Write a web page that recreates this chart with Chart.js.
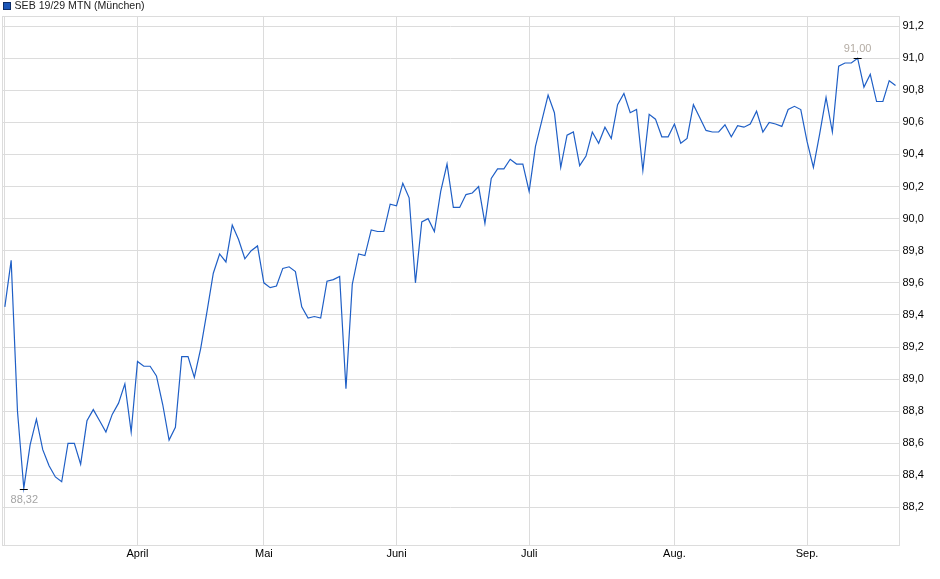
<!DOCTYPE html>
<html lang="de">
<head>
<meta charset="utf-8">
<title>SEB 19/29 MTN (München)</title>
<script src="https://cdn.jsdelivr.net/npm/chart.js@4.4.1/dist/chart.umd.min.js"></script>
<style>
  html, body { margin: 0; padding: 0; background: #fff; }
  canvas { display: block; }
</style>
</head>
<body>
<canvas id="kurs" width="940" height="579"></canvas>
<script>
// Kursverlauf diario, un valor por día de negociación
const nombreSerie = 'SEB 19/29 MTN (München)';

const valores = [
  89.45, 89.74, 88.80, 88.32, 88.59, 88.75, 88.56, 88.46, 88.39, 88.36,
  88.60, 88.60, 88.47, 88.74, 88.81, 88.74, 88.67, 88.78, 88.85, 88.97,
  88.67, 89.11, 89.08, 89.08, 89.02, 88.84, 88.62, 88.70, 89.14, 89.14,
  89.01, 89.19, 89.42, 89.66, 89.78, 89.73, 89.96, 89.87, 89.75, 89.80,
  89.83, 89.60, 89.57, 89.58, 89.69, 89.70, 89.67, 89.45, 89.38, 89.39,
  89.38, 89.61, 89.62, 89.64, 88.94, 89.59, 89.78, 89.77, 89.93, 89.92,
  89.92, 90.09, 90.08, 90.22, 90.13, 89.60, 89.98, 90.00, 89.92, 90.17,
  90.34, 90.07, 90.07, 90.15, 90.16, 90.20, 89.97, 90.25, 90.31, 90.31,
  90.37, 90.34, 90.34, 90.17, 90.45, 90.61, 90.77, 90.66, 90.32, 90.52,
  90.54, 90.33, 90.39, 90.54, 90.47, 90.57, 90.50, 90.71, 90.78, 90.66,
  90.68, 90.30, 90.65, 90.62, 90.51, 90.51, 90.59, 90.47, 90.50, 90.71,
  90.63, 90.55, 90.54, 90.54, 90.585, 90.51, 90.58, 90.57, 90.59, 90.67,
  90.54, 90.60, 90.59, 90.575, 90.68, 90.70, 90.68, 90.48, 90.32, 90.53,
  90.755, 90.54, 90.95, 90.97, 90.97, 91.00, 90.82, 90.90, 90.73, 90.73,
  90.86, 90.83
];

// primer día de cada mes (índice dentro de valores)
const etiquetasMes = ['', 'April', 'Mai', 'Juni', 'Juli', 'Aug.', 'Sep.'];
const indicesMes = [0, 21, 41, 62, 83, 106, 127];

const ticksY = [88.2, 88.4, 88.6, 88.8, 89.0, 89.2, 89.4, 89.6, 89.8, 90.0, 90.2, 90.4, 90.6, 90.8, 91.0, 91.2];

(function(){
  const fuente = 'Liberation Sans, Arial, sans-serif';
  const gris = '#dcdcdc';
  const azul = '#1f5fc6';

  const conComa = (v, dec) => Number(v).toFixed(dec).replace('.', ',');

  const puntos = valores.map((v, i) => ({ x: i, y: v }));

  // marco del área, leyenda arriba y marcas de mínimo / máximo
  const extras = {
    id: 'extras',
    beforeDatasetsDraw(chart) {
      const { ctx, chartArea: a } = chart;
      ctx.save();
      ctx.strokeStyle = gris;
      ctx.lineWidth = 1;
      ctx.strokeRect(Math.round(a.left) + 0.5, Math.round(a.top) + 0.5, Math.round(a.right - a.left), Math.round(a.bottom - a.top));
      ctx.restore();
    },
    afterDraw(chart) {
      const { ctx } = chart;
      const sx = chart.scales.x, sy = chart.scales.y;
      ctx.save();

      // leyenda
      ctx.fillStyle = '#1b56b8';
      ctx.fillRect(3.5, 2.5, 7, 7);
      ctx.strokeStyle = '#0d2c66';
      ctx.lineWidth = 1;
      ctx.strokeRect(3.5, 2.5, 7, 7);
      ctx.fillStyle = '#222';
      ctx.font = '10.6px ' + fuente;
      ctx.textBaseline = 'middle';
      ctx.textAlign = 'left';
      ctx.fillText(nombreSerie, 14.5, 6.5);

      // mínimo y máximo
      const vMin = Math.min(...valores), vMax = Math.max(...valores);
      const iMin = valores.indexOf(vMin), iMax = valores.indexOf(vMax);
      const marcar = (i, v, abajo, color) => {
        const px = sx.getPixelForValue(i);
        const py = Math.round(sy.getPixelForValue(v)) + (abajo ? 1.5 : 0.5);
        ctx.strokeStyle = '#000';
        ctx.lineWidth = 1;
        ctx.beginPath();
        ctx.moveTo(px - 4, py);
        ctx.lineTo(px + 4, py);
        ctx.stroke();
        ctx.fillStyle = color;
        ctx.textAlign = 'center';
        ctx.textBaseline = 'middle';
        ctx.font = '11px ' + fuente;
        ctx.fillText(conComa(v, 2), px + (abajo ? 0.5 : 0), abajo ? py + 10 : py - 10);
      };
      marcar(iMin, vMin, true, '#a4a4a4');
      marcar(iMax, vMax, false, '#b4aca4');
      ctx.restore();
    }
  };

  new Chart(document.getElementById('kurs'), {
    type: 'line',
    data: {
      datasets: [{
        label: nombreSerie,
        data: puntos,
        borderColor: azul,
        borderWidth: 1.2,
        pointRadius: 0,
        tension: 0,
        fill: false
      }]
    },
    options: {
      responsive: false,
      animation: false,
      devicePixelRatio: 1,
      layout: { padding: { left: 2, top: 16, right: 0, bottom: 0 } },
      plugins: {
        legend: { display: false },
        tooltip: { enabled: false }
      },
      scales: {
        x: {
          type: 'linear',
          position: 'bottom',
          min: -0.45,
          max: 141.47,
          border: { display: false },
          grid: { color: gris, drawTicks: false },
          afterBuildTicks: (s) => { s.ticks = indicesMes.map(v => ({ value: v })); },
          afterFit: (s) => { s.height = 34; },
          ticks: {
            autoSkip: false,
            maxRotation: 0,
            padding: 2,
            color: '#000',
            font: { family: fuente, size: 11 },
            callback: (v) => {
              const k = indicesMes.indexOf(v);
              return k >= 0 ? etiquetasMes[k] : '';
            }
          }
        },
        y: {
          position: 'right',
          min: 87.966,
          max: 91.263,
          border: { display: false },
          grid: { color: gris, drawTicks: false },
          afterBuildTicks: (s) => { s.ticks = ticksY.map(v => ({ value: v })); },
          afterFit: (s) => { s.width = 41.5; },
          ticks: {
            padding: 4,
            color: '#000',
            font: { family: fuente, size: 11 },
            callback: (v) => conComa(v, 1)
          }
        }
      }
    },
    plugins: [extras]
  });
})();
</script>
</body>
</html>
